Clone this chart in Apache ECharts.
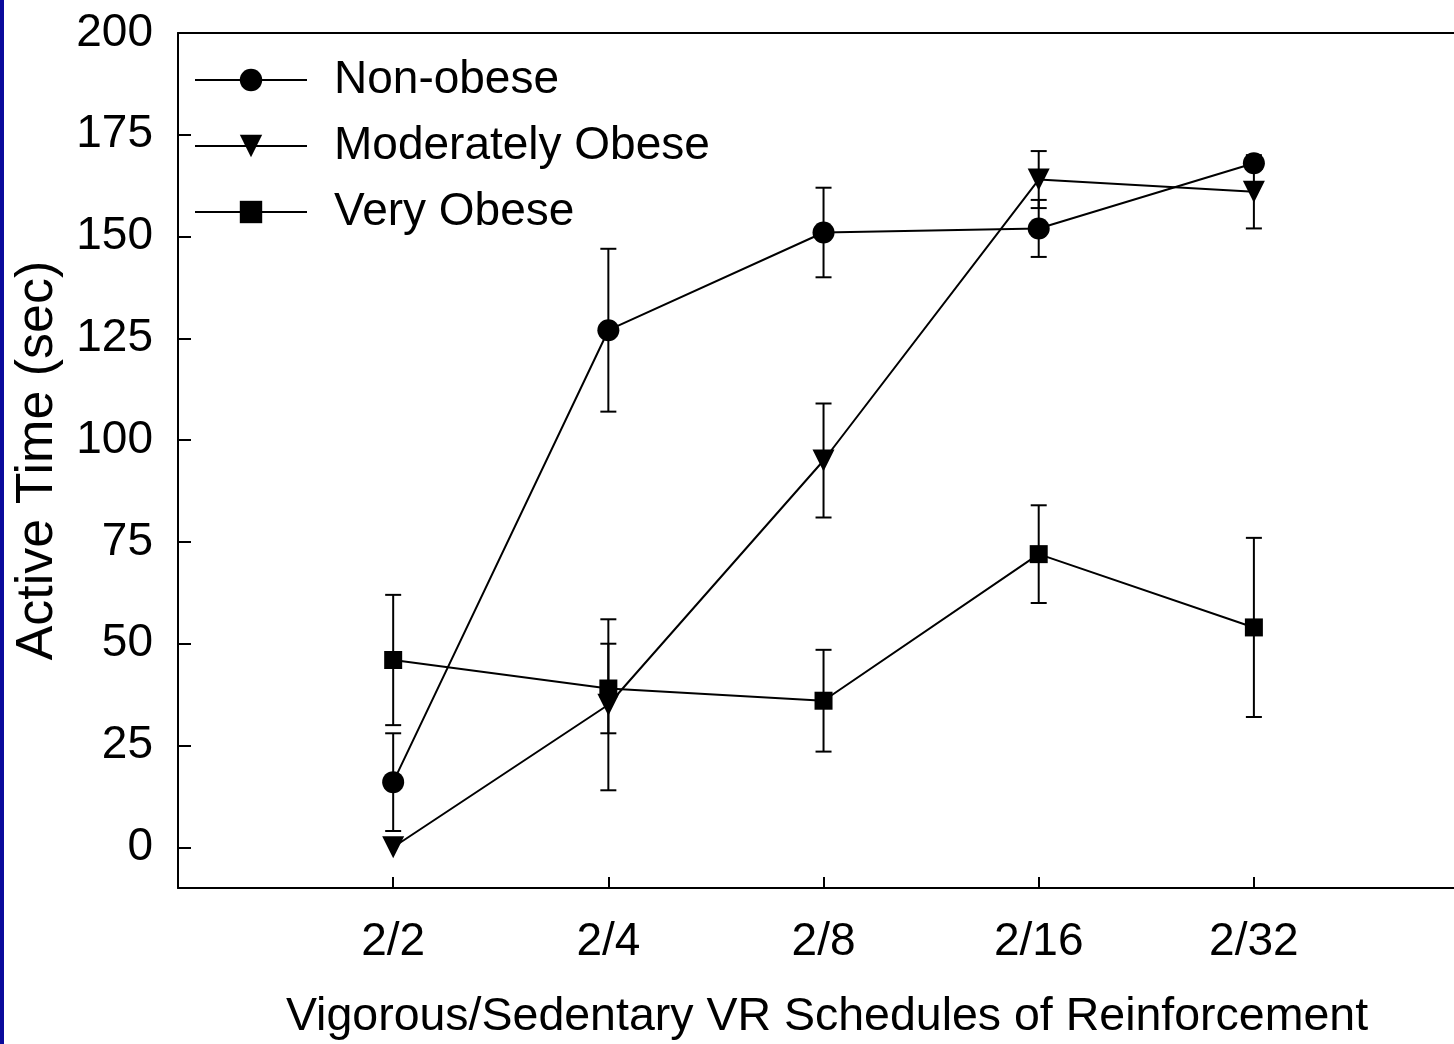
<!DOCTYPE html>
<html>
<head>
<meta charset="utf-8">
<title>Active Time by VR Schedule</title>
<script src="https://cdn.jsdelivr.net/npm/echarts@6/dist/echarts.min.js"></script>
<style>
  html, body { margin: 0; padding: 0; background: #ffffff; }
  #chart { width: 1454px; height: 1044px; }
</style>
</head>
<body>
<div id="chart"></div>
<script>
// Schedules of reinforcement (vigorous/sedentary)
const categories = ['2/2', '2/4', '2/8', '2/16', '2/32'];

// Mean active time (sec) and error (±) per group
const nonObese = [16, 127, 151, 152, 168];
const nonObeseErr = [12, 20, 11, 7, 1.5];
const moderatelyObese = [0, 35, 95, 164, 161];
const moderatelyObeseErr = [0, 21, 14, 7, 9];
const veryObese = [46, 39, 36, 72, 54];
const veryObeseErr = [16, 11, 12.5, 12, 22];

// Y axis tick labels
const yTicks = [0, 25, 50, 75, 100, 125, 150, 175, 200];
const xPositions = categories.map((c, i) => i + 1);

const FONT = '"Liberation Sans", Arial, Helvetica, sans-serif';
const TRI_DOWN = 'path://M0,0 L20,0 L10,19 Z';

function points(values) {
  return values.map((v, i) => [i + 1, v]);
}
function bars(values, errs) {
  return values.map((v, i) => [i + 1, v - errs[i], v + errs[i], errs[i]]);
}

function renderErrorBar(params, api) {
  const err = api.value(3);
  if (!err) return null;
  const x = api.value(0);
  const lo = api.coord([x, api.value(1)]);
  const hi = api.coord([x, api.value(2)]);
  const half = 8;
  const style = { stroke: '#000', lineWidth: 2, fill: null };
  return {
    type: 'group',
    children: [
      { type: 'line', shape: { x1: hi[0], y1: hi[1], x2: lo[0], y2: lo[1] }, style },
      { type: 'line', shape: { x1: hi[0] - half, y1: hi[1], x2: hi[0] + half, y2: hi[1] }, style },
      { type: 'line', shape: { x1: lo[0] - half, y1: lo[1], x2: lo[0] + half, y2: lo[1] }, style }
    ]
  };
}

function errorSeries(values, errs) {
  return {
    type: 'custom',
    renderItem: renderErrorBar,
    data: bars(values, errs),
    encode: { x: 0, y: [1, 2] },
    z: 1,
    silent: true
  };
}

function lineSeries(name, values, symbol, size) {
  return {
    name,
    type: 'line',
    data: points(values),
    symbol,
    symbolSize: size,
    showAllSymbol: true,
    lineStyle: { color: '#000', width: 2 },
    itemStyle: { color: '#000', borderWidth: 0 },
    z: 3,
    animation: false
  };
}

const chart = echarts.init(document.getElementById('chart'), null, { renderer: 'canvas' });

chart.setOption({
  backgroundColor: '#ffffff',
  animation: false,
  textStyle: { fontFamily: FONT, color: '#000' },
  graphic: [
    { type: 'rect', left: 0, top: 0, shape: { width: 4, height: 1044 }, style: { fill: '#0a0a9c' }, z: 10 }
  ],
  grid: { left: 178, right: 0, top: 33, bottom: 156, containLabel: false, outerBoundsMode: 'none' },
  legend: {
    orient: 'vertical',
    left: 194,
    top: 57,
    padding: 0,
    itemWidth: 112,
    itemHeight: 28,
    itemGap: 20,
    selectedMode: false,
    textStyle: { fontFamily: FONT, fontSize: 46, color: '#000', lineHeight: 46, padding: [0, 0, 0, 22] },
    data: ['Non-obese', 'Moderately Obese', 'Very Obese']
  },
  xAxis: [
    {
      type: 'value',
      min: 0,
      max: 5.93,
      position: 'bottom',
      splitLine: { show: false },
      axisLine: { show: true, onZero: false, lineStyle: { color: '#000', width: 2 } },
      axisTick: { show: true, inside: true, length: 11, customValues: xPositions, lineStyle: { color: '#000', width: 2 } },
      axisLabel: {
        show: true,
        customValues: xPositions,
        margin: 31,
        fontFamily: FONT,
        fontSize: 46,
        color: '#000',
        formatter: v => categories[Math.round(v) - 1] || ''
      },
      name: 'Vigorous/Sedentary VR Schedules of Reinforcement',
      nameLocation: 'middle',
      nameGap: 106,
      nameTextStyle: { fontFamily: FONT, fontSize: 46.5, color: '#000', padding: [0, 0, 0, 22] }
    },
    {
      type: 'value',
      min: 0,
      max: 5.93,
      position: 'top',
      splitLine: { show: false },
      axisLine: { show: true, onZero: false, lineStyle: { color: '#000', width: 2 } },
      axisTick: { show: false },
      axisLabel: { show: false }
    }
  ],
  yAxis: {
    type: 'value',
    min: -10,
    max: 200,
    splitLine: { show: false },
    axisLine: { show: true, onZero: false, lineStyle: { color: '#000', width: 2 } },
    axisTick: { show: true, inside: true, length: 13, customValues: yTicks, lineStyle: { color: '#000', width: 2 } },
    axisLabel: {
      show: true,
      customValues: yTicks,
      margin: 25,
      fontFamily: FONT,
      fontSize: 46,
      color: '#000'
    },
    name: 'Active Time (sec)',
    nameLocation: 'middle',
    nameRotate: 90,
    nameGap: 114,
    nameTextStyle: { fontFamily: FONT, fontSize: 52, color: '#000' }
  },
  series: [
    errorSeries(nonObese, nonObeseErr),
    errorSeries(moderatelyObese, moderatelyObeseErr),
    errorSeries(veryObese, veryObeseErr),
    lineSeries('Non-obese', nonObese, 'circle', 22),
    lineSeries('Moderately Obese', moderatelyObese, TRI_DOWN, 22),
    lineSeries('Very Obese', veryObese, 'rect', 18)
  ]
});
</script>
</body>
</html>
